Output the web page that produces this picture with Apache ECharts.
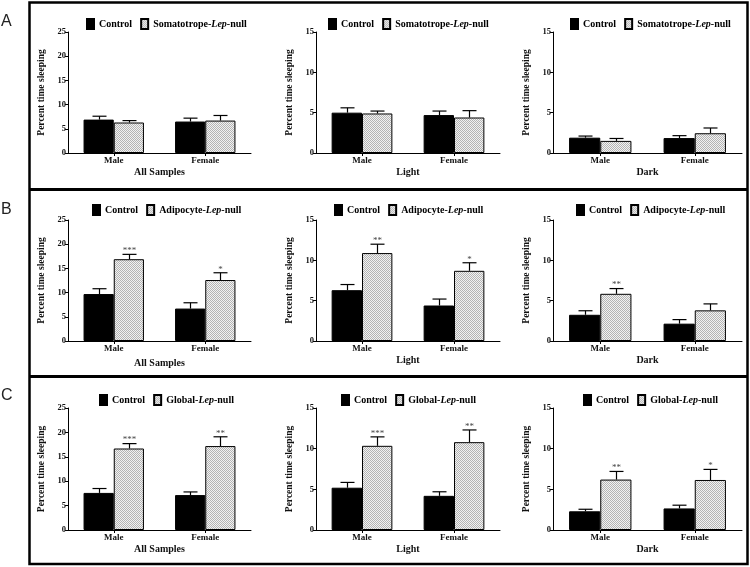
<!DOCTYPE html>
<html><head><meta charset="utf-8">
<script src="https://cdn.jsdelivr.net/npm/echarts@6/dist/echarts.min.js"></script>
<style>html,body{margin:0;padding:0;background:#fff}#c{width:750px;height:567px}</style>
</head><body><div id="c"></div>
<script>
// ---------- data ----------
const categories = ['Male', 'Female'];
const columnTitles = ['All Samples', 'Light', 'Dark'];
const yMaxByColumn = [25, 15, 15];
const yTickStep = 5;
const yAxisTitle = 'Percent time sleeping';
const controlName = 'Control';
const mutantNames = ['Somatotrope-Lep-null', 'Adipocyte-Lep-null', 'Global-Lep-null'];
const rowLetters = ['A', 'B', 'C'];

// Row A: Somatotrope-Lep-null
const somaAllControl = [6.9, 6.5],  somaAllControlErr = [0.7, 0.7];
const somaAllMutant  = [6.3, 6.7],  somaAllMutantErr  = [0.4, 1.05];
const somaAllStars   = ['', ''];
const somaLightControl = [5.0, 4.7], somaLightControlErr = [0.6, 0.5];
const somaLightMutant  = [4.9, 4.4], somaLightMutantErr  = [0.3, 0.85];
const somaLightStars   = ['', ''];
const somaDarkControl = [1.9, 1.85], somaDarkControlErr = [0.2, 0.3];
const somaDarkMutant  = [1.5, 2.45], somaDarkMutantErr  = [0.3, 0.65];
const somaDarkStars   = ['', ''];

// Row B: Adipocyte-Lep-null
const adipoAllControl = [9.7, 6.7],   adipoAllControlErr = [1.1, 1.2];
const adipoAllMutant  = [16.9, 12.6], adipoAllMutantErr  = [1.0, 1.5];
const adipoAllStars   = ['***', '*'];
const adipoLightControl = [6.3, 4.4],  adipoLightControlErr = [0.7, 0.8];
const adipoLightMutant  = [10.9, 8.7], adipoLightMutantErr  = [1.1, 1.0];
const adipoLightStars   = ['**', '*'];
const adipoDarkControl = [3.25, 2.15], adipoDarkControlErr = [0.5, 0.5];
const adipoDarkMutant  = [5.85, 3.8],  adipoDarkMutantErr  = [0.65, 0.8];
const adipoDarkStars   = ['**', ''];

// Row C: Global-Lep-null
const globalAllControl = [7.6, 7.15],  globalAllControlErr = [0.9, 0.65];
const globalAllMutant  = [16.7, 17.2], globalAllMutantErr  = [1.0, 1.9];
const globalAllStars   = ['***', '**'];
const globalLightControl = [5.2, 4.2],    globalLightControlErr = [0.65, 0.5];
const globalLightMutant  = [10.35, 10.8], globalLightMutantErr  = [1.1, 1.5];
const globalLightStars   = ['***', '**'];
const globalDarkControl = [2.3, 2.65], globalDarkControlErr = [0.25, 0.4];
const globalDarkMutant  = [6.2, 6.15], globalDarkMutantErr  = [1.0, 1.3];
const globalDarkStars   = ['**', '*'];

const panels = [
  [ {c: somaAllControl, ce: somaAllControlErr, m: somaAllMutant, me: somaAllMutantErr, s: somaAllStars},
    {c: somaLightControl, ce: somaLightControlErr, m: somaLightMutant, me: somaLightMutantErr, s: somaLightStars},
    {c: somaDarkControl, ce: somaDarkControlErr, m: somaDarkMutant, me: somaDarkMutantErr, s: somaDarkStars} ],
  [ {c: adipoAllControl, ce: adipoAllControlErr, m: adipoAllMutant, me: adipoAllMutantErr, s: adipoAllStars},
    {c: adipoLightControl, ce: adipoLightControlErr, m: adipoLightMutant, me: adipoLightMutantErr, s: adipoLightStars},
    {c: adipoDarkControl, ce: adipoDarkControlErr, m: adipoDarkMutant, me: adipoDarkMutantErr, s: adipoDarkStars} ],
  [ {c: globalAllControl, ce: globalAllControlErr, m: globalAllMutant, me: globalAllMutantErr, s: globalAllStars},
    {c: globalLightControl, ce: globalLightControlErr, m: globalLightMutant, me: globalLightMutantErr, s: globalLightStars},
    {c: globalDarkControl, ce: globalDarkControlErr, m: globalDarkMutant, me: globalDarkMutantErr, s: globalDarkStars} ]
];

// ---------- layout / style ----------
const SERIF = '"Liberation Serif","Times New Roman",Times,serif';
const SANS = '"Liberation Sans","DejaVu Sans",Arial,sans-serif';
const colX = [{l: 68, r: 251}, {l: 316, r: 500}, {l: 553, r: 742}];
const rowY = [{t: 32, b: 153}, {t: 220, b: 341}, {t: 408, b: 530}];
const legendCenterX = [160.5, 402.5, 644.5];
const legendTopY = [13, 199, 389];
const CAT_GAP = 0.34;

function makePattern() {
  const cv = document.createElement('canvas');
  cv.width = 2; cv.height = 2;
  const ctx = cv.getContext('2d');
  ctx.fillStyle = '#f2f2f2'; ctx.fillRect(0, 0, 2, 2);
  ctx.fillStyle = '#b4b4b4';
  ctx.fillRect(0, 0, 1, 1); ctx.fillRect(1, 1, 1, 1);
  return cv;
}
const hatch = {image: makePattern(), repeat: 'repeat'};

const mctx = document.createElement('canvas').getContext('2d');
function tw(txt, italic) {
  mctx.font = (italic ? 'italic ' : '') + 'bold 10px ' + SERIF;
  return mctx.measureText(txt).width;
}
function legendWidth(mut) {
  const parts = mut.split('-Lep-');
  const w2 = tw(parts[0] + '-') + tw('Lep', true) + tw('-' + parts[1]);
  return 7 + 5 + tw(controlName) + 8 + 7 + 5 + w2;
}

const grids = [], xAxes = [], yAxes = [], series = [], legends = [];
for (let r = 0; r < 3; r++) {
  for (let c = 0; c < 3; c++) {
    const i = r * 3 + c;
    const p = panels[r][c];
    grids.push({left: colX[c].l, width: colX[c].r - colX[c].l, top: rowY[r].t, height: rowY[r].b - rowY[r].t});
    xAxes.push({
      type: 'category', gridIndex: i, data: categories,
      axisLine: {lineStyle: {color: '#000', width: 1}},
      axisTick: {show: true, alignWithLabel: true, length: 3, lineStyle: {color: '#000'}},
      axisLabel: {fontSize: 9, fontWeight: 'bold', fontFamily: SERIF, color: '#111', margin: 3},
      name: columnTitles[c], nameLocation: 'middle', nameGap: 14 + (r === 1 && c === 0 ? 3 : 0),
      nameTextStyle: {fontSize: 10, fontWeight: 'bold', fontFamily: SERIF, color: '#111'}
    });
    yAxes.push({
      type: 'value', gridIndex: i, min: 0, max: yMaxByColumn[c], interval: yTickStep,
      axisLine: {show: true, lineStyle: {color: '#000', width: 1}},
      axisTick: {show: true, length: 3, lineStyle: {color: '#000'}},
      splitLine: {show: false},
      axisLabel: {fontSize: 8.5, fontWeight: 'bold', fontFamily: SERIF, color: '#111', margin: 2},
      name: yAxisTitle, nameLocation: 'middle', nameGap: 21,
      nameTextStyle: {fontSize: 9.5, fontWeight: 'bold', fontFamily: SERIF, color: '#111'}
    });
    series.push({
      type: 'bar', name: controlName, xAxisIndex: i, yAxisIndex: i, data: p.c,
      barGap: '0%', barCategoryGap: (CAT_GAP * 100) + '%',
      itemStyle: {color: '#000', borderColor: '#000', borderWidth: 1},
      emphasis: {disabled: true}
    });
    series.push({
      type: 'bar', name: mutantNames[r], xAxisIndex: i, yAxisIndex: i, data: p.m,
      barGap: '0%', barCategoryGap: (CAT_GAP * 100) + '%',
      itemStyle: {color: hatch, borderColor: '#000', borderWidth: 1},
      emphasis: {disabled: true}
    });
    const errData = [];
    for (let k = 0; k < categories.length; k++) errData.push([k, p.c[k], p.ce[k], -1, -1]);
    for (let k = 0; k < categories.length; k++) errData.push([k, p.m[k], p.me[k], 1, k]);
    const stars = p.s;
    series.push({
      type: 'custom', xAxisIndex: i, yAxisIndex: i, data: errData, z: 5, silent: true,
      renderItem: function (params, api) {
        const k = api.value(0), v = api.value(1), e = api.value(2), side = api.value(3), si = api.value(4);
        const band = api.size([1, 0])[0];
        const bw = band * (1 - CAT_GAP) / 2;
        const base = api.coord([k, v]);
        const top = api.coord([k, v + e]);
        const x = Math.round(base[0] + side * bw / 2) + 0.5;
        const children = [
          {type: 'line', shape: {x1: x, y1: base[1], x2: x, y2: top[1]}, style: {stroke: '#000', lineWidth: 1.2}},
          {type: 'line', shape: {x1: x - 7, y1: top[1], x2: x + 7, y2: top[1]}, style: {stroke: '#000', lineWidth: 1.2}}
        ];
        if (si >= 0 && stars[si]) {
          children.push({type: 'text', style: {text: stars[si], x: x, y: top[1] + 1, align: 'center', verticalAlign: 'bottom',
            fontSize: 9, fontFamily: SERIF, fill: '#444'}});
        }
        return {type: 'group', children: children};
      }
    });
    legends.push({
      data: [controlName, mutantNames[r]],
      left: Math.round(legendCenterX[c] - legendWidth(mutantNames[r]) / 2), top: legendTopY[r],
      itemWidth: 7, itemHeight: 10, itemGap: 8, icon: 'rect', selectedMode: false,
      formatter: function (name) {
        if (name.indexOf('-Lep-') < 0) return '{b|' + name + '}';
        const parts = name.split('-Lep-');
        return '{b|' + parts[0] + '-}{i|Lep}{b|-' + parts[1] + '}';
      },
      textStyle: {
        fontSize: 10, fontWeight: 'bold', fontFamily: SERIF, color: '#000',
        rich: {
          b: {fontSize: 10, fontWeight: 'bold', fontFamily: SERIF, color: '#000'},
          i: {fontSize: 10, fontWeight: 'bold', fontStyle: 'italic', fontFamily: SERIF, color: '#000'}
        }
      }
    });
  }
}

const graphics = [
  {type: 'rect', shape: {x: 29.5, y: 2.5, width: 718, height: 561.5}, style: {fill: null, stroke: '#000', lineWidth: 2.5}, z: 10},
  {type: 'line', shape: {x1: 29, y1: 189.5, x2: 748, y2: 189.5}, style: {stroke: '#000', lineWidth: 3}, z: 10},
  {type: 'line', shape: {x1: 29, y1: 376.5, x2: 748, y2: 376.5}, style: {stroke: '#000', lineWidth: 3}, z: 10}
];
const letterY = [14, 202, 388];
for (let r = 0; r < 3; r++) {
  graphics.push({type: 'text', left: 1, top: letterY[r], style: {text: rowLetters[r], fontSize: 16, fontFamily: SANS, fill: '#222'}});
}

const chart = echarts.init(document.getElementById('c'), null, {renderer: 'canvas'});
chart.setOption({
  animation: false,
  backgroundColor: '#fff',
  grid: grids, xAxis: xAxes, yAxis: yAxes, legend: legends, series: series,
  graphic: graphics
});
</script></body></html>
